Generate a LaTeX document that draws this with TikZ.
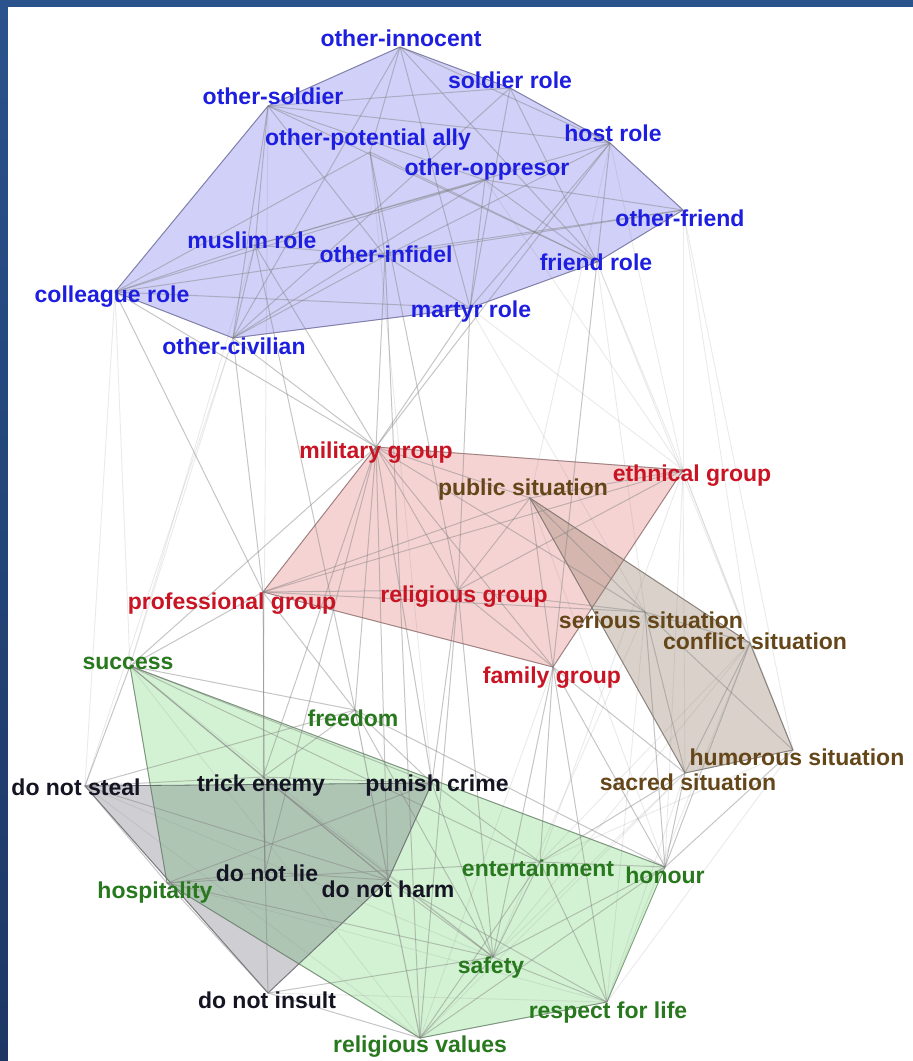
\documentclass[tikz,border=0pt]{standalone}
\usepackage{fontspec}
\setmainfont{Liberation Sans}
\definecolor{frameblue}{RGB}{42,82,140}
\definecolor{framedark}{RGB}{28,55,100}
\definecolor{tblue}{RGB}{30,30,225}
\definecolor{tred}{RGB}{200,20,35}
\definecolor{tbrown}{RGB}{100,70,25}
\definecolor{tgreen}{RGB}{40,120,30}
\definecolor{tblack}{RGB}{20,20,35}
\definecolor{hblue}{RGB}{125,125,240}
\definecolor{hred}{RGB}{230,120,120}
\definecolor{hbrown}{RGB}{150,128,105}
\definecolor{hgreen}{RGB}{120,215,120}
\definecolor{hgray}{RGB}{95,95,110}
\tikzset{
  lbl/.style={font=\bfseries\fontsize{23}{25}\selectfont, inner sep=0pt, anchor=center},
  lb/.style={lbl, text=tblue},
  lr/.style={lbl, text=tred},
  lbr/.style={lbl, text=tbrown},
  lg/.style={lbl, text=tgreen},
  lk/.style={lbl, text=tblack},
  edg/.style={draw=black!50, line width=1pt, opacity=0.45},
  fnt/.style={draw=black!45, line width=0.9pt, opacity=0.18},
}
\begin{document}
\begin{tikzpicture}[x=1pt,y=-1pt]
% frame
\shade[top color=frameblue, bottom color=framedark] (0,0) rectangle (913,1061);
\fill[white] (8,7) rectangle (913,1061);
\useasboundingbox (0,0) rectangle (913,1061);
% vertices
\coordinate (oi) at (400,47);
\coordinate (sr) at (510,88);
\coordinate (os) at (268,106);
\coordinate (hr) at (610,143);
\coordinate (opa) at (370,152);
\coordinate (oo) at (485,180);
\coordinate (of) at (683,210);
\coordinate (mr) at (255,245);
\coordinate (oinf) at (385,256);
\coordinate (fr) at (597,262);
\coordinate (cr) at (115,292);
\coordinate (mar) at (470,308);
\coordinate (oc) at (233,338);
\coordinate (mg) at (376,447);
\coordinate (eg) at (683,470);
\coordinate (pg) at (263,592);
\coordinate (rg) at (458,590);
\coordinate (fg) at (553,667);
\coordinate (ps) at (530,498);
\coordinate (ss) at (645,612);
\coordinate (cs) at (750,643);
\coordinate (hs) at (793,750);
\coordinate (sas) at (685,773);
\coordinate (suc) at (130,666);
\coordinate (fre) at (355,710);
\coordinate (hos) at (167,883);
\coordinate (ent) at (540,862);
\coordinate (hon) at (665,867);
\coordinate (saf) at (493,957);
\coordinate (rfl) at (607,1002);
\coordinate (rv) at (420,1038);
\coordinate (dns) at (85,786);
\coordinate (te) at (263,777);
\coordinate (pc) at (432,783);
\coordinate (dnl) at (265,872);
\coordinate (dnh) at (388,880);
\coordinate (dni) at (268,993);
% hulls
\filldraw[fill=hblue, fill opacity=0.36, draw=hblue!80!black, draw opacity=0.8, line width=0.8pt]
  (oi) -- (sr) -- (hr) -- (of) -- (fr) -- (mar) -- (oc) -- (cr) -- (os) -- cycle;
\filldraw[fill=hred, fill opacity=0.32, draw=hred!70!black, draw opacity=0.7, line width=0.8pt]
  (mg) -- (eg) -- (fg) -- (pg) -- cycle;
\filldraw[fill=hbrown, fill opacity=0.35, draw=hbrown!70!black, draw opacity=0.7, line width=0.8pt]
  (ps) -- (cs) -- (hs) -- (sas) -- cycle;
\filldraw[fill=hgreen, fill opacity=0.32, draw=hgreen!60!black, draw opacity=0.7, line width=0.8pt]
  (suc) -- (hon) -- (rfl) -- (rv) -- (hos) -- cycle;
\filldraw[fill=hgray, fill opacity=0.3, draw=hgray!70!black, draw opacity=0.7, line width=0.8pt]
  (dns) -- (pc) -- (dnh) -- (dni) -- cycle;
% faint edges
\foreach \a/\b in {of/eg, of/hs, fr/hs, fr/eg, hr/eg, eg/hs, eg/hon, eg/sas, eg/cs,
  hs/ent, hs/rfl, sas/saf, sas/rfl, cs/rfl, cr/suc, cr/dns, oc/suc, suc/rv, dns/rv,
  dni/rfl, mar/eg, mar/ss, oo/eg, opa/pc, os/te, hon/rfl, cs/ent, ss/rfl, of/cs,
  fr/ss, hr/ps, suc/saf, dns/saf, fre/rv, hos/rfl, eg/ent, cs/saf, mr/suc, oc/dns,
  ps/hon, ss/saf, fg/rv, sas/rv}
  \draw[fnt] (\a) -- (\b);
% edges
\foreach \a/\b in {oi/os, oi/sr, oi/hr, oi/mar, oi/fr, oi/opa, oi/oc,
  os/hr, os/oo, os/oc, os/cr, os/fr, os/oinf, os/mr, os/sr,
  sr/mar, sr/fr, sr/hr, sr/oc,
  hr/of, hr/mr, hr/mar, hr/mg, hr/fr, hr/oinf,
  oo/mr, oo/fr, oo/of, oo/oc, oo/cr, oo/mar,
  opa/fr, opa/rg, opa/oinf, opa/cr,
  of/oinf, of/fr, of/cr,
  fr/fg, fr/mar,
  mar/oc, mar/cr, mar/mg, mar/rg, mar/oinf,
  cr/pg, cr/oc, cr/mr, cr/mg,
  mr/mg, mr/oc, mr/oinf, mr/fre,
  oc/mg, oc/pg,
  oinf/mg, oinf/rv, oinf/oc}
  \draw[edg] (\a) -- (\b);
\foreach \a/\b in {mg/eg, mg/pg, mg/rg, mg/fg, mg/te, mg/pc, mg/dnh, mg/fre, mg/ss, mg/suc, mg/ps, mg/dnl,
  eg/pg, eg/ps, eg/fg, eg/rg,
  ps/rg, ps/cs, ps/sas, ps/pg, ps/ss, ps/fg,
  pg/fg, pg/rg, pg/ss, pg/te, pg/suc, pg/fre, pg/dnl,
  rg/ss, rg/fg, rg/rv, rg/pc, rg/saf,
  fg/ent, fg/hon, fg/saf, fg/rfl, fg/sas,
  ss/cs, ss/hs, ss/sas, ss/hon,
  cs/hs, cs/sas, cs/hon,
  hs/sas, hs/hon,
  sas/hon, sas/ent}
  \draw[edg] (\a) -- (\b);
\foreach \a/\b in {suc/fre, suc/te, suc/dnh, suc/pc, suc/dns, suc/hon, suc/hos, suc/ent,
  fre/te, fre/pc, fre/dnh, fre/saf, fre/hon, fre/dns,
  dns/te, te/pc, dns/dni, dns/hos, dns/dnh,
  te/dnl, te/dnh, te/dni, te/saf,
  pc/dnh, pc/saf, pc/ent, pc/hos,
  dnl/dnh, dnl/hos,
  dnh/dni, dnh/saf, dnh/rfl, dnh/rv,
  hos/dni, hos/ent, hos/rv, hos/saf,
  ent/hon, ent/saf, ent/rfl, ent/rv,
  hon/saf, hon/rv,
  saf/rfl, saf/rv, rfl/rv,
  dni/rv, dni/saf}
  \draw[edg] (\a) -- (\b);
% labels
\node[lb] (l-oi) at (401,38) {other-innocent};
\node[lb] (l-sr) at (510,80) {soldier role};
\node[lb] (l-os) at (273,96) {other-soldier};
\node[lb] (l-hr) at (613,133) {host role};
\node[lb] (l-opa) at (368,140) {other-potential ally};
\node[lb] (l-oo) at (487,170) {other-oppresor};
\node[lb] (l-of) at (680,218) {other-friend};
\node[lb] (l-mr) at (252,240) {muslim role};
\node[lb] (l-oinf) at (386,254) {other-infidel};
\node[lb] (l-fr) at (596,262) {friend role};
\node[lb] (l-cr) at (112,297) {colleague role};
\node[lb] (l-mar) at (471,312) {martyr role};
\node[lb] (l-oc) at (234,346) {other-civilian};
\node[lr] (l-mg) at (376,453) {military group};
\node[lr] (l-eg) at (692,476) {ethnical group};
\node[lr] (l-pg) at (232,604) {professional group};
\node[lr] (l-rg) at (464,597) {religious group};
\node[lr] (l-fg) at (552,678) {family group};
\node[lbr] (l-ps) at (523,490) {public situation};
\node[lbr] (l-ss) at (651,620) {serious situation};
\node[lbr] (l-cs) at (755,641) {conflict situation};
\node[lbr] (l-hs) at (797,757) {humorous situation};
\node[lbr] (l-sas) at (688,782) {sacred situation};
\node[lg] (l-suc) at (128,663) {success};
\node[lg] (l-fre) at (353,718) {freedom};
\node[lg] (l-hos) at (155,893) {hospitality};
\node[lg] (l-ent) at (538,868) {entertainment};
\node[lg] (l-hon) at (665,875) {honour};
\node[lg] (l-saf) at (491,968) {safety};
\node[lg] (l-rfl) at (608,1013) {respect for life};
\node[lg] (l-rv) at (420,1047) {religious values};
\node[lk] (l-dns) at (76,787) {do not steal};
\node[lk] (l-te) at (261,786) {trick enemy};
\node[lk] (l-pc) at (437,786) {punish crime};
\node[lk] (l-dnl) at (267,873) {do not lie};
\node[lk] (l-dnh) at (388,889) {do not harm};
\node[lk] (l-dni) at (267,1000) {do not insult};
\end{tikzpicture}
\end{document}
